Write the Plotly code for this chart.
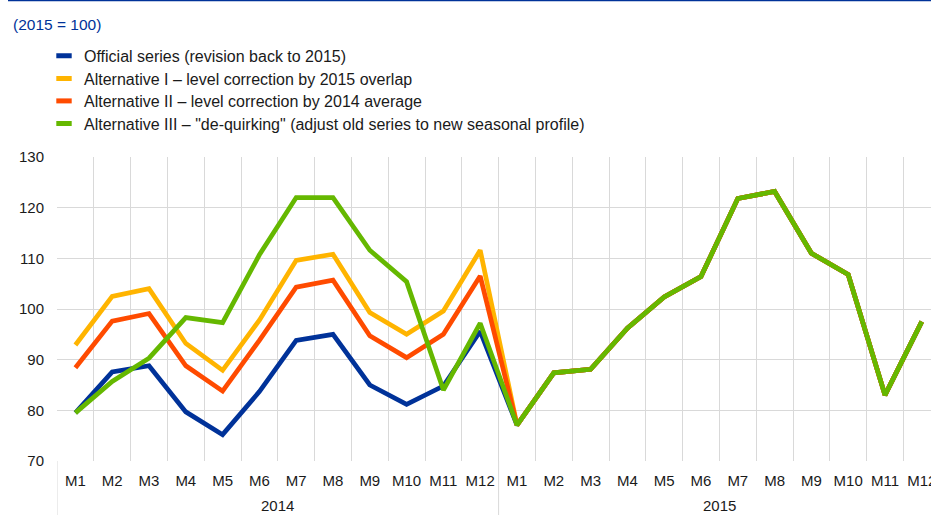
import plotly.graph_objects as go

# ---- data ----
years = ["2014", "2015"]
months = ["M1", "M2", "M3", "M4", "M5", "M6", "M7", "M8", "M9", "M10", "M11", "M12"]

series_names = [
    "Official series (revision back to 2015)",
    "Alternative I \u2013 level correction by 2015 overlap",
    "Alternative II \u2013 level correction by 2014 average",
    "Alternative III \u2013 \"de-quirking\" (adjust old series to new seasonal profile)",
]

official_2014 = [79.5, 87.6, 88.8, 79.7, 75.2, 83.7, 93.8, 95.0, 85.0, 81.2, 84.8, 95.6]
alt1_2014 = [92.9, 102.5, 104.0, 93.2, 87.9, 97.8, 109.6, 110.8, 99.3, 95.0, 99.6, 111.6]
alt2_2014 = [88.4, 97.6, 99.1, 88.8, 83.8, 93.8, 104.3, 105.7, 94.7, 90.4, 95.0, 106.5]
alt3_2014 = [79.5, 85.7, 90.3, 98.3, 97.3, 110.7, 122.0, 122.0, 111.6, 105.4, 84.0, 97.2]
common_2015 = [77.1, 87.4, 88.1, 96.2, 102.4, 106.4, 121.8, 123.2, 111.0, 106.8, 83.0, 97.5]

series_values = [
    official_2014 + common_2015,
    alt1_2014 + common_2015,
    alt2_2014 + common_2015,
    alt3_2014 + common_2015,
]
colors = ["#003299", "#ffb400", "#ff4b00", "#65b800"]

categories = [f"{y} {m}" for y in years for m in months]
tick_text = months * len(years)

FONT = "Liberation Sans, Arial, sans-serif"
W, H = 931, 515
ML, MR, MT, MB = 57, 0, 157, 54
PW, PH = W - ML - MR, H - MT - MB


def px_x(px):
    return (px - ML) / PW


def px_y(py):
    return (H - MB - py) / PH


fig = go.Figure()
for name, vals, col in zip(series_names, series_values, colors):
    fig.add_trace(go.Scatter(
        x=categories, y=vals, mode="lines", name=name,
        line=dict(color=col, width=4.7), showlegend=False, hoverinfo="skip",
    ))

# legend swatches, one legend per entry for exact row spacing
legend_rows_y = [55.8, 78.5, 101.0, 123.5]
legends = {}
for i, (name, col) in enumerate(zip(series_names, colors)):
    key = "legend" if i == 0 else f"legend{i + 1}"
    fig.add_trace(go.Scatter(
        x=[None], y=[None], mode="markers", name=name, legend=key,
        marker=dict(symbol="line-ew", size=11, color=col,
                    line=dict(color=col, width=5)),
        showlegend=True,
    ))
    legends[key] = dict(
        xref="paper", yref="paper",
        x=px_x(44), y=px_y(legend_rows_y[i]), xanchor="left", yanchor="middle",
        font=dict(family=FONT, size=16, color="#1a1a1a"),
        bgcolor="rgba(0,0,0,0)", borderwidth=0, itemsizing="trace",
    )

annotations = [dict(
    text="(2015 = 100)", xref="paper", yref="paper",
    x=px_x(11), y=px_y(24.5),
    xanchor="left", yanchor="middle", showarrow=False,
    font=dict(family=FONT, size=15.5, color="#003299"),
)]
# year group labels centred on their months
for gi, y in enumerate(years):
    centre = gi * len(months) + (len(months) - 1) / 2
    annotations.append(dict(
        text=y, xref="x", yref="paper", x=centre, y=px_y(505.5),
        xanchor="center", yanchor="middle", showarrow=False,
        font=dict(family=FONT, size=15, color="#1a1a1a"),
    ))

shapes = [dict(
    type="line", xref="paper", yref="paper",
    x0=px_x(8), x1=px_x(W + 5),
    y0=px_y(0.5), y1=px_y(0.5),
    line=dict(color="#003299", width=1.5),
)]
# group dividers below the axis
for gi in range(len(years) + 1):
    b = gi * len(months) - 0.5
    shapes.append(dict(
        type="line", xref="x", yref="paper", x0=b, x1=b,
        y0=0, y1=px_y(H + 2), line=dict(color="#d9d9d9", width=1),
    ))

fig.update_layout(
    width=W, height=H,
    margin=dict(l=ML, r=MR, t=MT, b=MB, pad=0, autoexpand=False),
    paper_bgcolor="white", plot_bgcolor="white",
    font=dict(family=FONT, size=15, color="#1a1a1a"),
    showlegend=True,
    annotations=annotations, shapes=shapes,
    **legends,
)
fig.update_xaxes(
    type="category", categoryorder="array", categoryarray=categories,
    range=[-0.5, 23.25],
    tickmode="array", tickvals=categories, ticktext=tick_text,
    tickson="boundaries",
    showgrid=True, gridcolor="#d9d9d9", gridwidth=1,
    showline=False, ticks="", tickangle=0,
    tickfont=dict(family=FONT, size=15, color="#1a1a1a"),
    ticklabelstandoff=9,
)
fig.update_yaxes(
    range=[70, 130], dtick=10, tick0=70,
    showgrid=True, gridcolor="#d9d9d9", gridwidth=1,
    zeroline=False, showline=False, ticks="",
    tickfont=dict(family=FONT, size=15, color="#1a1a1a"),
    ticklabelstandoff=12,
)

fig.write_html(
    "out.html",
    config={"displayModeBar": False},
    post_script="document.body.style.margin='0';document.body.style.overflow='hidden';",
)
